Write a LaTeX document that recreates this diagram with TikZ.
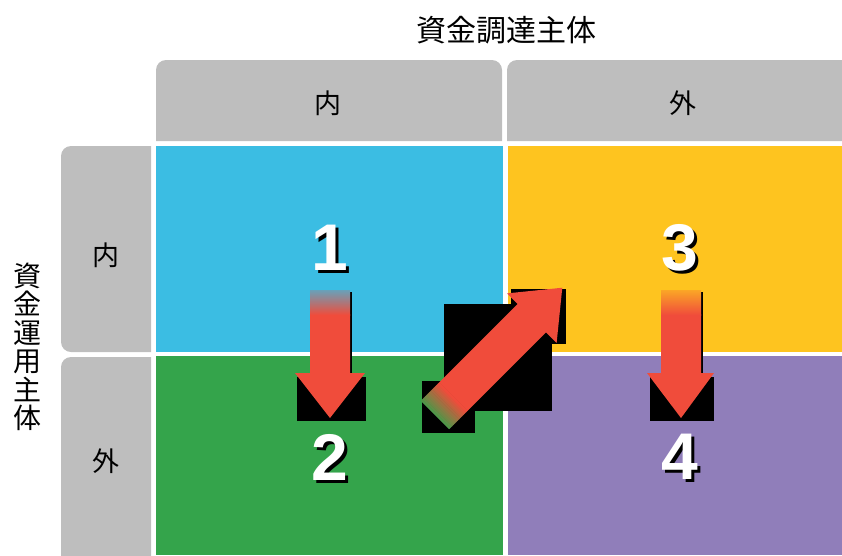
\documentclass[tikz,border=0pt]{standalone}
\usepackage{fontspec}
\newfontfamily\cjk{Noto Sans CJK JP}
\newfontfamily\digitfont{Liberation Sans}
\definecolor{cblue}{HTML}{3BBDE3}
\definecolor{cyellow}{HTML}{FEC41F}
\definecolor{cgreen}{HTML}{34A44B}
\definecolor{cpurple}{HTML}{907EBA}
\definecolor{cgray}{HTML}{BEBEBE}
\definecolor{cred}{HTML}{F04C3B}
\tikzset{
  digit/.style={font=\digitfont\bfseries\fontsize{66}{66}\selectfont, text=white, inner sep=0pt},
  digitshadow/.style={digit, text=black},
  hdr/.style={font=\cjk\fontsize{27}{27}\selectfont, inner sep=0pt},
  title/.style={font=\cjk\fontsize{30}{30}\selectfont, inner sep=0pt},
  shadowbox/.style={fill=black},
  arrowfill/.style={fill=cred}
}
\begin{document}
\begin{tikzpicture}[x=1pt,y=-1pt]
\useasboundingbox (0,0) rectangle (842,555);
\clip (0,0) rectangle (842,555);
% column headers
\fill[cgray] (156,141) [rounded corners=10pt] -- (156,60) -- (502,60) [sharp corners] -- (502,141) -- cycle;
\fill[cgray] (507,141) [rounded corners=10pt] -- (507,60) [sharp corners] -- (870,60) -- (870,141) -- cycle;
% row headers
\fill[cgray] (151,146) [rounded corners=10pt] -- (61,146) -- (61,352) [sharp corners] -- (151,352) -- cycle;
\fill[cgray] (151,357) [rounded corners=10pt] -- (61,357) [sharp corners] -- (61,580) -- (151,580) -- cycle;
% cells
\fill[cblue] (156,146) rectangle (503,352);
\fill[cyellow] (508,146) rectangle (842,352);
\fill[cgreen] (156,356) rectangle (503,555);
\fill[cpurple] (508,356) rectangle (842,555);
% texts
\node[title] (t1) at (506,30) {資金調達主体};
\node[hdr] (c1) at (328,103) {内};
\node[hdr] (c2) at (683,103) {外};
\node[hdr] (r1) at (106,255) {内};
\node[hdr] (r2) at (106,461) {外};
\node[font=\cjk\fontsize{28}{28.5}\selectfont, align=center, inner sep=0pt] (t2) at (27,347) {資\\金\\運\\用\\主\\体};
% black shadow boxes
\fill[shadowbox] (297,377) rectangle (366,421);
\fill[shadowbox] (349,292) rectangle (352,377);
\fill[shadowbox] (650,377) rectangle (714,421);
\fill[shadowbox] (700,292) rectangle (703,377);
\fill[shadowbox] (422,381) rectangle (475,433);
\fill[shadowbox] (444,304) rectangle (552,411);
\fill[shadowbox] (511,289) rectangle (566,344);
% arrow 1 -> 2
\fill[arrowfill] (310,314) -- (350,314) -- (350,373) -- (365,373) -- (330,418) -- (295,373) -- (310,373) -- cycle;
\shade[top color=cblue!75!cred, bottom color=cred] (310,290) rectangle (350,315);
% arrow 3 -> 4
\fill[arrowfill] (661,314) -- (701,314) -- (701,373) -- (714,373) -- (681,418) -- (647,373) -- (661,373) -- cycle;
\shade[top color=cyellow!75!cred, bottom color=cred] (661,290) rectangle (701,315);
% diagonal arrow 2 -> 3
\begin{scope}[shift={(435,415)}, rotate=45]
\fill[arrowfill] (26,-20) -- (137,-20) -- (137,-35) -- (180,0) -- (137,35) -- (137,20) -- (26,20) -- cycle;
\foreach \i in {0,...,12} {
  \pgfmathsetmacro\p{85-\i*85/12}
  \fill[cgreen!\p!cred] (\i*2,-20) rectangle (\i*2+2.4,20);
}
\end{scope}
% digits
\node[digitshadow] at (333,251) {1};
\node[digit] (n1) at (330,248) {1};
\node[digitshadow] at (333,460) {2};
\node[digit] (n2) at (330,457) {2};
\node[digitshadow] at (683,251) {3};
\node[digit] (n3) at (680,248) {3};
\node[digitshadow] at (683,460) {4};
\node[digit] (n4) at (680,457) {4};
\end{tikzpicture}
\end{document}
